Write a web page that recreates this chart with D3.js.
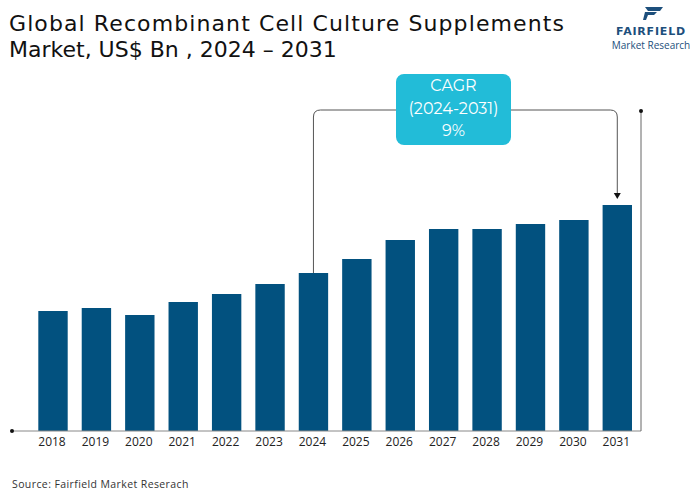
<!DOCTYPE html>
<html><head><meta charset="utf-8">
<script src="https://cdn.jsdelivr.net/npm/d3@7"></script>
<style>body{margin:0;background:#fff;}svg{display:block;}</style>
</head><body>
<svg id="c" width="700" height="491"></svg>
<script>
const years = ["2018","2019","2020","2021","2022","2023","2024","2025","2026","2027","2028","2029","2030","2031"];
const values = [1.20,1.23,1.16,1.29,1.37,1.47,1.58,1.72,1.91,2.02,2.02,2.07,2.11,2.26];
const titleLines = ["Global Recombinant Cell Culture Supplements","Market, US$ Bn , 2024 – 2031"];
const cagrLines = ["CAGR","(2024-2031)","9%"];
const cagrFrom = "2024", cagrTo = "2031";

const svg = d3.select("#c");
const x = d3.scaleBand().domain(years).range([31.3,639]).paddingInner(0.323).paddingOuter(0.1615);
const y = d3.scaleLinear().domain([0,2.26]).range([431,205]);

// title (one text element, two lines)
const tt = svg.append("text")
  .attr("font-family","'DejaVu Sans', sans-serif").attr("font-size",22)
  .attr("fill","#111");
tt.selectAll("tspan").data(titleLines).join("tspan")
  .attr("x",9).attr("y",(d,i)=>31+i*26)
  .attr("letter-spacing",(d,i)=>i===0?1.1:0).text(d=>d);

// logo
const lg = svg.append("g");
lg.append("path").attr("d","M645,7 L663,7 L660,11 L648,11 Z").attr("fill","#1d4f7c");
lg.append("path").attr("d","M645,12 L657,12 L654,15 L648,15 L646,20 L643,20 Z").attr("fill","#1d4f7c");
const lt = lg.append("text").attr("text-anchor","middle").attr("fill","#1d4f7c");
lt.append("tspan").attr("x",651).attr("y",34.5)
  .attr("font-family","'DejaVu Sans', sans-serif").attr("font-weight","bold").attr("font-size",11)
  .attr("letter-spacing",0.8).text("FAIRFIELD");
lt.append("tspan").attr("x",651).attr("y",48.5)
  .attr("font-family","'Open Sans', sans-serif").attr("font-size",10).text("Market Research");

// bars
svg.append("g").selectAll("rect").data(years).join("rect")
  .attr("x",d=>x(d)).attr("width",x.bandwidth())
  .attr("y",(d,i)=>y(values[i])).attr("height",(d,i)=>y(0)-y(values[i]))
  .attr("fill","#02517f");

// axis baseline
svg.append("line").attr("x1",12).attr("x2",641).attr("y1",431).attr("y2",431)
  .attr("stroke","#888").attr("stroke-width",1);
svg.append("circle").attr("cx",12).attr("cy",431).attr("r",2).attr("fill","#111");
// right vertical line
svg.append("line").attr("x1",641).attr("x2",641).attr("y1",111).attr("y2",431)
  .attr("stroke","#666").attr("stroke-width",1);
svg.append("circle").attr("cx",641).attr("cy",111).attr("r",2).attr("fill","#111");

// x labels
svg.append("g").selectAll("text").data(years).join("text")
  .attr("x",d=>x(d)+x.bandwidth()/2-1).attr("y",446).attr("text-anchor","middle")
  .attr("font-family","'Open Sans', sans-serif").attr("font-size",12)
  .attr("fill","#222").text(d=>d);

// CAGR connector
const fi = years.indexOf(cagrFrom), ti = years.indexOf(cagrTo);
const xa = x(cagrFrom)+x.bandwidth()/2, xb = x(cagrTo)+x.bandwidth()/2;
const ly = 110, r = 7;
svg.append("path")
  .attr("d",`M${xa},${y(values[fi])} L${xa},${ly+r} Q${xa},${ly} ${xa+r},${ly} L${xb-r},${ly} Q${xb},${ly} ${xb},${ly+r} L${xb},${y(values[ti])-11}`)
  .attr("fill","none").attr("stroke","#555").attr("stroke-width",1);
svg.append("path")
  .attr("d",`M${xb-3.5},${y(values[ti])-12} L${xb+3.5},${y(values[ti])-12} L${xb},${y(values[ti])-6} Z`)
  .attr("fill","#111");

// CAGR box
svg.append("rect").attr("x",396).attr("y",74).attr("width",115).attr("height",71)
  .attr("rx",8).attr("fill","#22bcd8");
svg.append("g").selectAll("text").data(cagrLines).join("text")
  .attr("x",453.5).attr("y",(d,i)=>91+i*22.5).attr("text-anchor","middle")
  .attr("font-family","Montserrat, 'Open Sans', sans-serif").attr("font-size",16)
  .attr("fill","#fff").text(d=>d);

// source
svg.append("text").attr("x",12).attr("y",488)
  .attr("font-family","'Open Sans', sans-serif").attr("font-size",10.5).attr("letter-spacing",0.4)
  .attr("fill","#333").text("Source: Fairfield Market Reserach");
</script>
</body></html>
